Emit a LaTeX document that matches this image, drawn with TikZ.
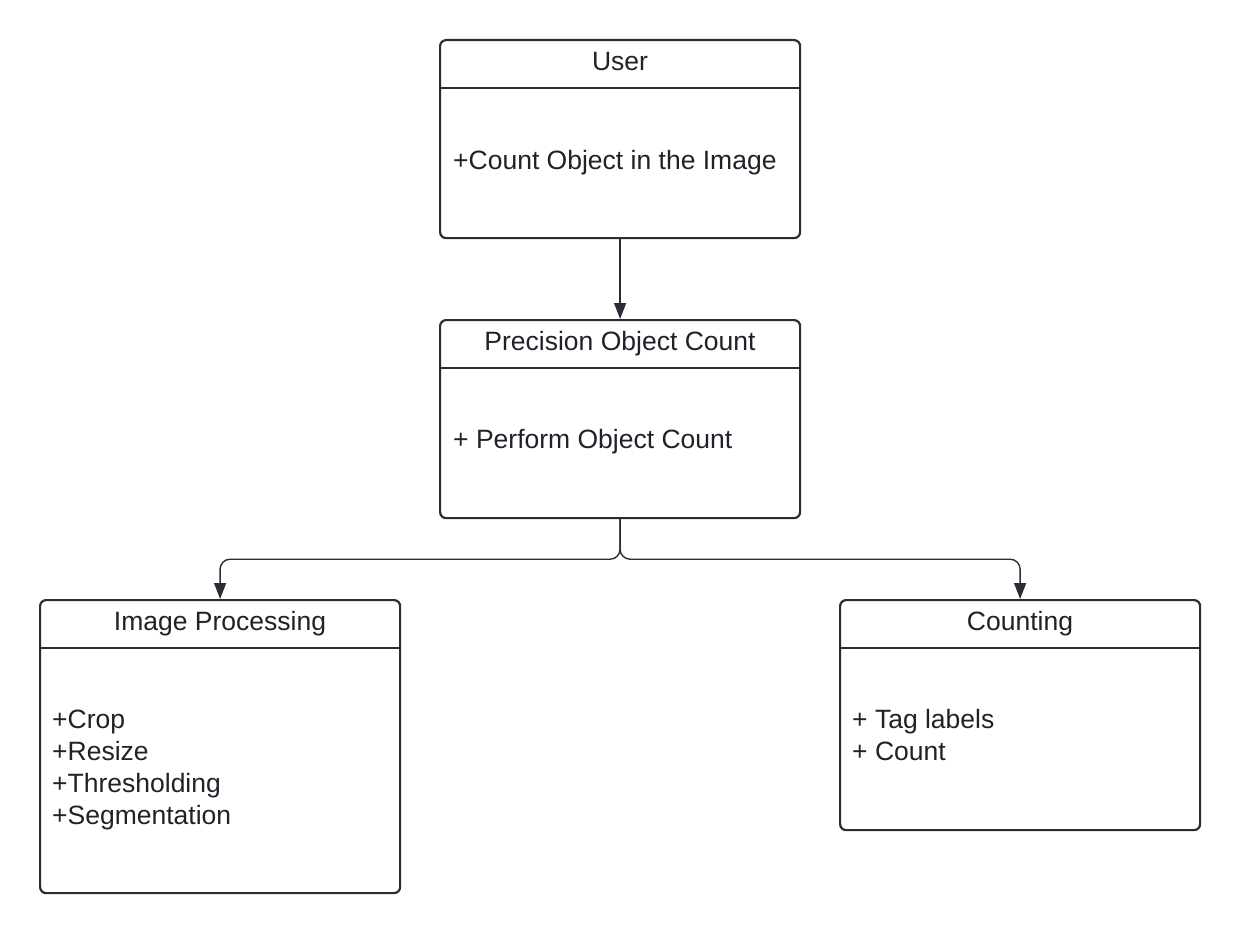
\documentclass[tikz,border=0pt]{standalone}
\usepackage{fontspec}
\setmainfont{Liberation Sans}
\usetikzlibrary{arrows.meta}
\definecolor{ink}{HTML}{2A2D33}
\definecolor{txt}{HTML}{1F2228}
\begin{document}
\begin{tikzpicture}[x=1pt,y=-1pt,
  classbox/.style={draw=ink, line width=2.2pt, rounded corners=6pt, minimum width=360pt, inner sep=0pt, anchor=north west},
  sep/.style={draw=ink, line width=2pt},
  hdr/.style={font=\fontsize{26.5}{32}\selectfont, text=txt, anchor=base, inner sep=0pt},
  body/.style={font=\fontsize{26.5}{32}\selectfont, text=txt, anchor=base west, inner sep=0pt, align=left},
  conn/.style={draw=ink, line width=1.4pt, -{Triangle[length=16pt,width=12pt]}}
]
\useasboundingbox (0,0) rectangle (1240,934);
\fill[white] (0,0) rectangle (1240,934);

% User
\node[classbox, minimum height=198pt] (user) at (439,39) {};
\draw[sep] (439,88) -- (799,88);
\node[hdr] (userH) at (620,70.5) {User};
\node[body] (userB) at (453,169.5) {+Count Object in the Image};

% Precision Object Count
\node[classbox, minimum height=198pt] (poc) at (439,319) {};
\draw[sep] (439,368) -- (799,368);
\node[hdr] (pocH) at (620,350.5) {Precision Object Count};
\node[body] (pocB) at (453,448.5) {+ Perform Object Count};

% Image Processing
\node[classbox, minimum height=293pt] (ip) at (39,599) {};
\draw[sep] (39,648) -- (399,648);
\node[hdr] (ipH) at (220,630.5) {Image Processing};
\node[body] (ipB1) at (52,728.5) {+Crop};
\node[body] (ipB2) at (52,760.5) {+Resize};
\node[body] (ipB3) at (52,792.5) {+Thresholding};
\node[body] (ipB4) at (52,824.5) {+Segmentation};

% Counting
\node[classbox, minimum height=230pt] (cnt) at (839,599) {};
\draw[sep] (839,648) -- (1199,648);
\node[hdr] (cntH) at (1020,630.5) {Counting};
\node[body] (cntB1) at (852,728.5) {+ Tag labels};
\node[body] (cntB2) at (852,760.5) {+ Count};

% connectors
\draw[conn] (user.south) -- (poc.north);
\draw[conn, rounded corners=10pt] (poc.south) -- ++(0,40) -| (ip.north);
\draw[conn, rounded corners=10pt] (poc.south) -- ++(0,40) -| (cnt.north);
\end{tikzpicture}
\end{document}
